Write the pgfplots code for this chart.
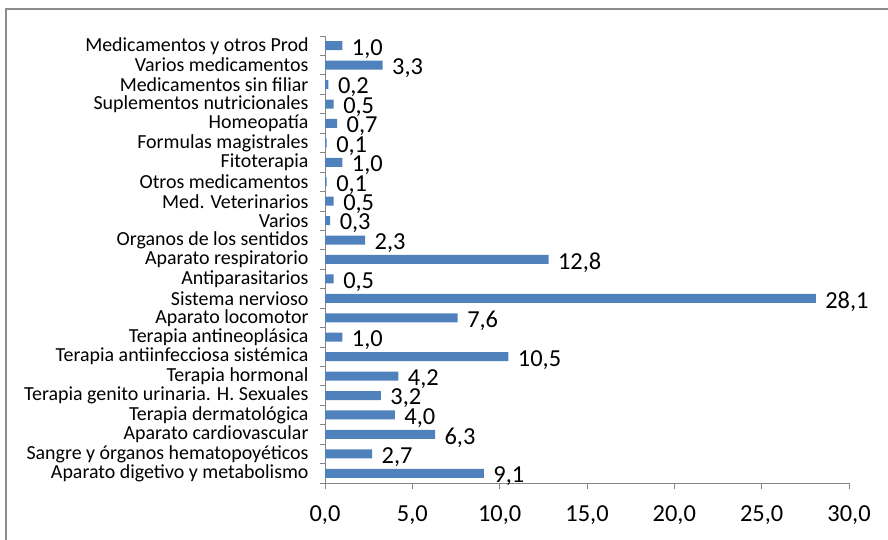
\documentclass[border=0pt]{standalone}
\usepackage{pgfplots}
\pgfplotsset{compat=1.18}
\usepackage{fontspec}
\setmainfont{Carlito}
\definecolor{barblue}{RGB}{79,129,189}
\definecolor{axgray}{RGB}{134,134,134}
\definecolor{framegray}{RGB}{140,140,140}
\pgfplotsset{
  /pgf/number format/use comma,
  /pgf/number format/fixed,
  /pgf/number format/fixed zerofill,
  /pgf/number format/precision=1,
  /pgf/number format/assume math mode=true,
}
\begin{document}
\begin{tikzpicture}
\path[use as bounding box] (0,0) rectangle (888bp,540bp);
\draw[framegray, line width=2bp] (6bp,0) -- (6bp,531bp) -- (888bp,531bp);
\begin{axis}[
  at={(325bp,57bp)}, anchor=south west,
  scale only axis, width=524bp, height=447bp,
  xbar, bar width=9bp,
  xmin=0, xmax=30, ymin=-0.5, ymax=22.5,
  axis lines*=left,
  axis line style={axgray, line width=0.8bp},
  tick align=outside,
  major tick length=6bp,
  minor tick length=5bp,
  xtick={0,5,...,30},
  x tick style={axgray, line width=0.8bp},
  xticklabel style={font=\fontsize{24.5}{25}\selectfont, text=black, yshift=-13bp},
  ytick={0,...,22},
  major y tick style={draw=none},
  minor ytick={-0.5,0.5,...,22.5},
  minor y tick style={axgray, line width=0.8bp},
  yticklabels={
    Aparato digetivo y metabolismo,
    Sangre y órganos hematopoyéticos,
    Aparato cardiovascular,
    Terapia dermatológica,
    Terapia genito urinaria. H. Sexuales,
    Terapia hormonal,
    Terapia antiinfecciosa sistémica,
    Terapia antineoplásica,
    Aparato locomotor,
    Sistema nervioso,
    Antiparasitarios,
    Aparato respiratorio,
    Organos de los sentidos,
    Varios,
    Med. Veterinarios,
    Otros medicamentos,
    Fitoterapia,
    Formulas magistrales,
    Homeopatía,
    Suplementos nutricionales,
    Medicamentos sin filiar,
    Varios medicamentos,
    Medicamentos y otros Prod},
  yticklabel style={font=\fontsize{20}{20}\selectfont, text=black, xshift=-7bp},
  point meta=x,
  nodes near coords,
  nodes near coords style={font=\fontsize{24.5}{25}\selectfont, text=black, anchor=west, xshift=6bp, yshift=-3bp},
]
\addplot[fill=barblue, draw=none] coordinates {
  (9.1,0) (2.7,1) (6.3,2) (4.0,3) (3.2,4) (4.2,5) (10.5,6) (1.0,7)
  (7.6,8) (28.1,9) (0.5,10) (12.8,11) (2.3,12) (0.3,13) (0.5,14)
  (0.1,15) (1.0,16) (0.1,17) (0.7,18) (0.5,19) (0.2,20) (3.3,21) (1.0,22)
};
\end{axis}
\end{tikzpicture}
\end{document}
